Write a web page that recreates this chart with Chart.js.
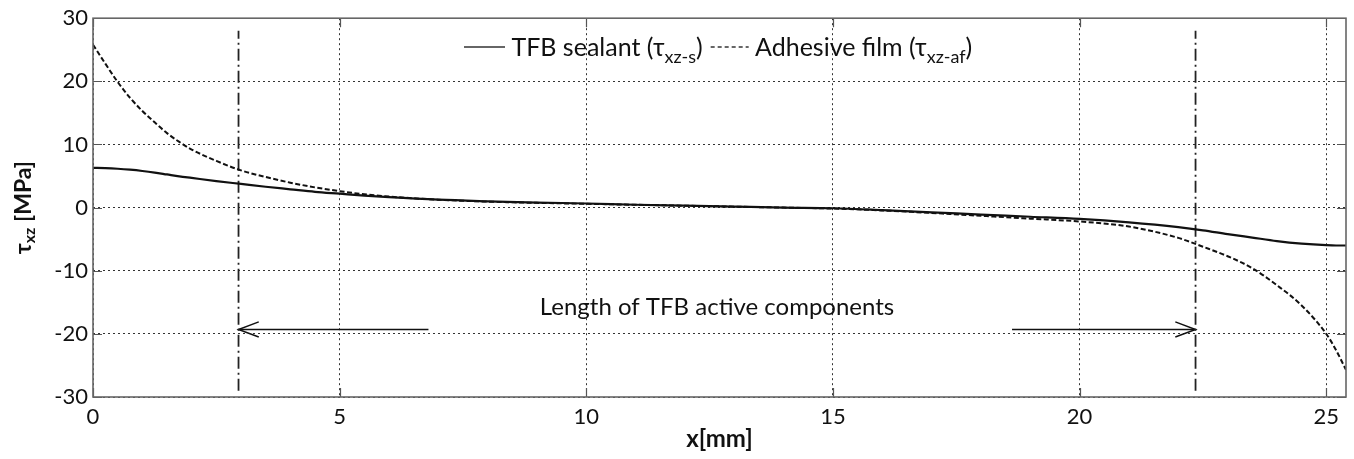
<!DOCTYPE html>
<html>
<head>
<meta charset="utf-8">
<script src="https://cdn.jsdelivr.net/npm/chart.js@4.4.0/dist/chart.umd.min.js"></script>
<style>
  html, body { margin: 0; padding: 0; background: #fff; }
  #wrap { width: 1354px; height: 459px; }
</style>
</head>
<body>
<div id="wrap"><canvas id="chart" width="1354" height="459"></canvas></div>
<script>
// positions along the joint [mm]
const xs = [0, 0.25, 0.5, 0.75, 1, 1.25, 1.5, 1.75, 2, 2.5, 3, 3.5, 4, 4.5, 5, 5.5, 6, 7, 8, 9, 10,
  11, 12, 13, 14, 15, 16, 17, 18, 19, 20, 21, 22, 22.5, 23, 23.5, 24, 24.5, 25, 25.2, 25.4];
// shear stress in the TFB sealant [MPa]
const sealant = [6.3, 6.25, 6.15, 6.0, 5.8, 5.55, 5.25, 4.95, 4.7, 4.2, 3.75, 3.3, 2.9, 2.5, 2.2, 1.9, 1.65, 1.25, 1.0, 0.8, 0.65,
  0.45, 0.3, 0.15, 0.0, -0.1, -0.4, -0.75, -1.1, -1.45, -1.8, -2.35, -3.1, -3.6, -4.2, -4.75, -5.3, -5.7, -5.95, -6.0, -6.0];
// shear stress in the adhesive film [MPa]
const film = [25.8, 22.8, 19.9, 17.4, 15.3, 13.5, 11.8, 10.4, 9.2, 7.4, 5.9, 4.85, 3.95, 3.2, 2.6, 2.1, 1.75, 1.25, 0.95, 0.75, 0.6,
  0.45, 0.3, 0.15, 0.0, -0.15, -0.45, -0.85, -1.3, -1.75, -2.2, -3.0, -4.8, -6.2, -7.7, -9.6, -12.3, -15.5, -20, -22.6, -25.7];

const xTicks = [0, 5, 10, 15, 20, 25];
const yTicks = [-30, -20, -10, 0, 10, 20, 30];

// start / end of the active components, and the arrow marking its length
const activeStart = 2.95;
const activeEnd = 22.35;
const guideLow = -29, guideHigh = 28;
const arrowY = -19.3;
const shaftLeftEnd = 6.8, shaftRightStart = 18.63;
const headLen = 0.41, headHalf = 1.2;
const spanLabel = 'Length of TFB active components';
const spanLabelY = -15.8;

const FONT = 'Lato, "Open Sans", sans-serif';
Chart.defaults.font.family = FONT;
Chart.defaults.color = '#111';

function line(points, opts) {
  return Object.assign({
    data: points,
    borderColor: '#111',
    borderWidth: 1.5,
    pointRadius: 0,
    fill: false,
    tension: 0
  }, opts);
}

const datasets = [
  line(xs.map((x, i) => ({ x: x, y: sealant[i] })), { borderWidth: 2.2, cubicInterpolationMode: 'monotone' }),
  line(xs.map((x, i) => ({ x: x, y: film[i] })), { borderWidth: 2, borderDash: [5, 2.5], cubicInterpolationMode: 'monotone' }),
  line([{ x: activeStart, y: guideLow }, { x: activeStart, y: guideHigh }], { borderDash: [12, 4, 2, 4], borderColor: '#222', borderWidth: 1.8 }),
  line([{ x: activeEnd, y: guideLow }, { x: activeEnd, y: guideHigh }], { borderDash: [12, 4, 2, 4], borderColor: '#222', borderWidth: 1.8 }),
  line([{ x: activeStart, y: arrowY }, { x: shaftLeftEnd, y: arrowY }], { borderWidth: 1.5 }),
  line([{ x: shaftRightStart, y: arrowY }, { x: activeEnd, y: arrowY }], { borderWidth: 1.5 }),
  line([{ x: activeStart + headLen, y: arrowY + headHalf }, { x: activeStart, y: arrowY }, { x: activeStart + headLen, y: arrowY - headHalf }], { borderWidth: 1.5 }),
  line([{ x: activeEnd - headLen, y: arrowY + headHalf }, { x: activeEnd, y: arrowY }, { x: activeEnd - headLen, y: arrowY - headHalf }], { borderWidth: 1.5 })
];

// draws text pieces one after another, with subscripts
function drawRuns(ctx, runs, x, y) {
  runs.forEach(r => {
    ctx.font = r.font;
    ctx.fillText(r.text, x, y + (r.dy || 0));
    x += ctx.measureText(r.text).width;
  });
  return x;
}
function runsWidth(ctx, runs) {
  let w = 0;
  runs.forEach(r => { ctx.font = r.font; w += ctx.measureText(r.text).width; });
  return w;
}

const decorations = {
  id: 'decorations',
  afterDraw(chart) {
    const ctx = chart.ctx;
    const a = chart.chartArea;
    const sx = chart.scales.x, sy = chart.scales.y;
    ctx.save();

    // inner tick marks on all four sides
    ctx.strokeStyle = '#555';
    ctx.lineWidth = 1.2;
    ctx.setLineDash([]);
    ctx.beginPath();
    xTicks.forEach(v => {
      const px = Math.round(sx.getPixelForValue(v)) + 0.5;
      ctx.moveTo(px, a.bottom); ctx.lineTo(px, a.bottom - 9);
      ctx.moveTo(px, a.top); ctx.lineTo(px, a.top + 9);
    });
    yTicks.forEach(v => {
      const py = Math.round(sy.getPixelForValue(v)) + 0.5;
      ctx.moveTo(a.left, py); ctx.lineTo(a.left + 9, py);
      ctx.moveTo(a.right, py); ctx.lineTo(a.right - 9, py);
    });
    ctx.stroke();

    // axes box
    ctx.strokeStyle = '#666';
    ctx.lineWidth = 1.6;
    ctx.strokeRect(a.left, a.top, a.right - a.left, a.bottom - a.top);

    // span label above the arrow
    ctx.fillStyle = '#111';
    ctx.font = '24px ' + FONT;
    ctx.textAlign = 'center';
    ctx.textBaseline = 'middle';
    ctx.fillText(spanLabel, sx.getPixelForValue((activeStart + activeEnd) / 2), sy.getPixelForValue(spanLabelY));

    // legend
    ctx.textAlign = 'left';
    ctx.textBaseline = 'alphabetic';
    const main = '25px ' + FONT, sub = '18px ' + FONT;
    const ly = 47, base = 56;
    let lx = 464;
    ctx.lineWidth = 2;
    ctx.beginPath(); ctx.moveTo(lx, ly); ctx.lineTo(lx + 41, ly); ctx.stroke();
    lx = drawRuns(ctx, [
      { text: ' TFB sealant (\u03c4', font: main },
      { text: 'xz-s', font: sub, dy: 7 },
      { text: ')', font: main }
    ], lx + 41, base);
    ctx.lineWidth = 1.8;
    ctx.setLineDash([4, 3]);
    ctx.beginPath(); ctx.moveTo(lx + 8, ly); ctx.lineTo(lx + 46, ly); ctx.stroke();
    ctx.setLineDash([]);
    drawRuns(ctx, [
      { text: ' Adhesive film (\u03c4', font: main },
      { text: 'xz-af', font: sub, dy: 7 },
      { text: ')', font: main }
    ], lx + 46, base);

    // y axis title
    const yRuns = [
      { text: '\u03c4', font: 'bold 23px ' + FONT },
      { text: 'xz', font: 'bold 16px ' + FONT, dy: 6 },
      { text: ' [MPa]', font: 'bold 23px ' + FONT }
    ];
    ctx.translate(24, (a.top + a.bottom) / 2);
    ctx.rotate(-Math.PI / 2);
    ctx.textBaseline = 'middle';
    drawRuns(ctx, yRuns, -runsWidth(ctx, yRuns) / 2, 0);

    ctx.restore();
  }
};

new Chart(document.getElementById('chart'), {
  type: 'line',
  data: { datasets: datasets },
  options: {
    responsive: false,
    animation: false,
    layout: { padding: { top: 16, right: 8, left: 0, bottom: 0 } },
    plugins: { legend: { display: false }, tooltip: { enabled: false } },
    scales: {
      x: {
        type: 'linear',
        min: 0,
        max: 25.4,
        afterBuildTicks: s => { s.ticks = xTicks.map(v => ({ value: v })); },
        afterFit: s => { s.height = 62; },
        ticks: { font: { size: 22 }, padding: 7, maxRotation: 0, includeBounds: false },
        grid: { color: '#333', lineWidth: 1, drawTicks: false },
        border: { display: false, dash: [2, 3] },
        title: { display: true, text: 'x[mm]', font: { size: 24, weight: 'bold' }, padding: { top: 0, bottom: 5 } }
      },
      y: {
        min: -30,
        max: 30,
        afterBuildTicks: s => { s.ticks = yTicks.map(v => ({ value: v })); },
        afterFit: s => { s.width = 93; },
        ticks: { font: { size: 22 }, padding: 5 },
        grid: { color: '#333', lineWidth: 1, drawTicks: false },
        border: { display: false, dash: [2, 3] }
      }
    }
  },
  plugins: [decorations]
});
</script>
</body>
</html>
